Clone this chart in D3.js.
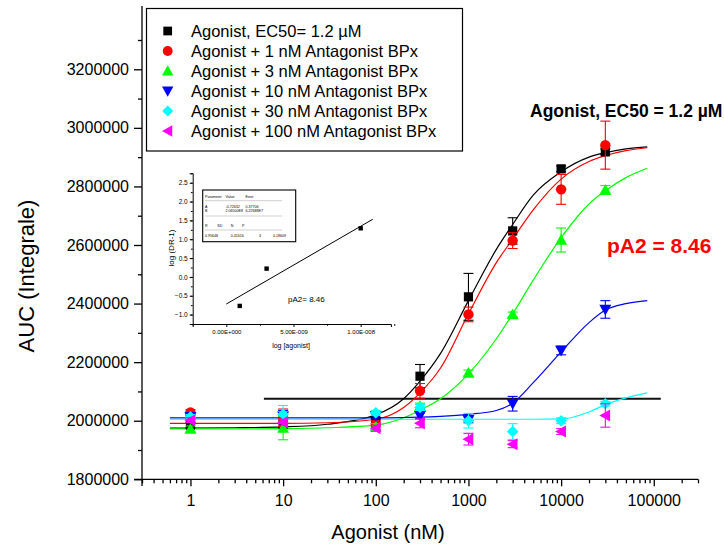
<!DOCTYPE html>
<html>
<head>
<meta charset="utf-8">
<script src="https://cdn.jsdelivr.net/npm/d3@7"></script>
<style>
  body { margin: 0; background: #fff; }
  svg { display: block; font-family: "Liberation Sans", Arial, Helvetica, sans-serif; }
</style>
</head>
<body>
<div id="chart"></div>
<script>
// ---- data ----
var conc = [1, 10, 100, 300, 1000, 3000, 10000, 30000];

var agonist      = [1985000, 1990000, 2000000, 2152000, 2423000, 2648000, 2860000, 2918000];
var agonistErr   = [10000, 15000, 10000, 40000, 80000, 45000, 10000, 10000];
var bpx1         = [2028000, 2010000, 1985000, 2102000, 2363000, 2615000, 2790000, 2941000];
var bpx1Err      = [10000, 30000, 15000, 25000, 25000, 27000, 51000, 82000];
var bpx3         = [1972000, 1975000, 1980000, 2050000, 2163000, 2363000, 2617000, 2788000];
var bpx3Err      = [10000, 40000, 10000, 10000, 10000, 8000, 41000, 15000];
var bpx10        = [2013000, 2015000, 2016000, 2017000, 2003000, 2058000, 2240000, 2380000];
var bpx10Err     = [8000, 20000, 10000, 10000, 10000, 25000, 15000, 30000];
var bpx30        = [2013000, 2022000, 2027000, 2045000, 2000000, 1963000, 2000000, 2058000];
var bpx30Err     = [8000, 30000, 8000, 10000, 25000, 27000, 10000, 8000];
var bpx100       = [2002000, 1995000, 1974000, 1991000, 1937000, 1920000, 1963000, 2018000];
var bpx100Err    = [8000, 10000, 10000, 15000, 20000, 12000, 10000, 40000];

// fitted curves, read at these concentrations
var fitConc = [0.6, 1, 3, 10, 30, 100, 200, 300, 500, 1000, 2000, 3000, 5000, 10000, 20000, 30000, 50000, 85000];
var fitAgonist = [1975000, 1975000, 1976000, 1979000, 1988000, 2020000, 2075000, 2135000, 2230000, 2410000, 2585000, 2670000, 2770000, 2850000, 2900000, 2915000, 2928000, 2935000];
var fitBpx1    = [1991000, 1991000, 1991000, 1991000, 1993000, 2005000, 2045000, 2095000, 2180000, 2365000, 2540000, 2620000, 2720000, 2825000, 2885000, 2905000, 2922000, 2932000];
var fitBpx3    = [1972000, 1972000, 1972000, 1973000, 1976000, 1985000, 2010000, 2036000, 2075000, 2160000, 2280000, 2365000, 2480000, 2625000, 2740000, 2785000, 2830000, 2862000];
var fitBpx10   = [2010000, 2010000, 2010000, 2010000, 2010000, 2010000, 2011000, 2012000, 2015000, 2022000, 2035000, 2060000, 2130000, 2235000, 2335000, 2378000, 2400000, 2410000];
var fitBpx30   = [2005000, 2005000, 2005000, 2005000, 2005000, 2005000, 2005000, 2005000, 2005000, 2005000, 2005000, 2005000, 2005000, 2006000, 2030000, 2055000, 2078000, 2095000];

var refLineConc = [6.2, 119000];
var refLineVal  = [2075000, 2075000];

var xTicks = [1, 10, 100, 1000, 10000, 100000];
var yTicks = [1800000, 2000000, 2200000, 2400000, 2600000, 2800000, 3000000, 3200000];

var legendLabels = [
  "Agonist, EC50= 1.2 \u00B5M",
  "Agonist + 1 nM Antagonist BPx",
  "Agonist + 3 nM Antagonist BPx",
  "Agonist + 10 nM Antagonist BPx",
  "Agonist + 30 nM Antagonist BPx",
  "Agonist + 100 nM Antagonist BPx"
];

// inset (Schild plot)
var schildX = [1e-9, 3e-9, 1e-8];
var schildY = [-0.77, 0.22, 1.29];
var schildLineX = [0, 1.09e-8];
var schildLineY = [-0.72, 1.53];
var insetYTicks = [-1.0, -0.5, 0.0, 0.5, 1.0, 1.5, 2.0, 2.5];
var insetXTicks = [0, 5e-9, 1e-8];
var insetXLabels = ["0.00E+000", "5.00E-009", "1.00E-008"];

var W = 724, H = 547;
var svg = d3.select("#chart").append("svg").attr("width", W).attr("height", H);

var x = d3.scaleLog().domain([0.3, 300000]).range([142, 698]);
var y = d3.scaleLinear().domain([1800000, 3400000]).range([479.3, 10.7]);

// ---- axes ----
var minorY = d3.range(1900000, 3400000, 200000);
var minorX = [];
[0.1, 1, 10, 100, 1000, 10000, 100000].forEach(function(d) {
  for (var k = 2; k <= 9; k++) {
    var v = d * k;
    if (v >= 0.3 && v <= 300000) minorX.push(v);
  }
});

var gy = svg.append("g").attr("transform", "translate(142,0)")
  .call(d3.axisLeft(y).tickValues(yTicks).tickSize(8).tickPadding(5).tickFormat(d3.format("d")));
gy.selectAll("text").attr("font-size", 16).attr("fill", "#000").attr("font-family", null);
gy.select(".domain").attr("stroke-width", 1.3).attr("d", "M0,486V6");
gy.selectAll(".tick line").attr("stroke-width", 1.3);
svg.append("g").attr("transform", "translate(142,0)")
  .call(d3.axisLeft(y).tickValues(minorY).tickSize(4).tickFormat(""))
  .call(function(g) { g.select(".domain").remove(); g.selectAll("line").attr("stroke-width", 1.3); });

var gx = svg.append("g").attr("transform", "translate(0,479.3)")
  .call(d3.axisBottom(x).tickValues(xTicks).tickSize(7).tickPadding(8).tickFormat(function(d) { return d; }));
gx.selectAll("text").attr("font-size", 16).attr("fill", "#000").attr("font-family", null);
gx.select(".domain").attr("stroke-width", 1.3).attr("d", "M134,0H698");
gx.selectAll(".tick line").attr("stroke-width", 1.3);
svg.append("g").attr("transform", "translate(0,479.3)")
  .call(d3.axisBottom(x).tickValues(minorX).tickSize(4).tickFormat(""))
  .call(function(g) { g.select(".domain").remove(); g.selectAll("line").attr("stroke-width", 1.3); });

svg.append("text").attr("transform", "translate(34,276) rotate(-90)")
  .attr("text-anchor", "middle").attr("font-size", 22).text("AUC (Integrale)");
svg.append("text").attr("x", 388).attr("y", 539)
  .attr("text-anchor", "middle").attr("font-size", 20).text("Agonist (nM)");

// ---- fitted curves ----
var line = d3.line()
  .x(function(d) { return x(d[0]); })
  .y(function(d) { return y(d[1]); })
  .curve(d3.curveMonotoneX);

var curves = [
  {vals: fitAgonist, color: "#000000"},
  {vals: fitBpx1, color: "#ff0000"},
  {vals: fitBpx3, color: "#00ff00"},
  {vals: fitBpx10, color: "#0000ff"},
  {vals: fitBpx30, color: "#00ffff"}
];

svg.append("path")
  .attr("d", line(d3.zip(refLineConc, refLineVal)))
  .attr("fill", "none").attr("stroke", "#111").attr("stroke-width", 1.8);

curves.forEach(function(c) {
  svg.append("path")
    .attr("d", line(d3.zip(fitConc, c.vals)))
    .attr("fill", "none").attr("stroke", c.color).attr("stroke-width", 1.2);
});

// ---- markers ----
function marker(type, s) {
  switch (type) {
    case "square": return "M" + (-s) + "," + (-s) + "h" + 2 * s + "v" + 2 * s + "h" + (-2 * s) + "Z";
    case "circle": return "M" + (-s) + ",0a" + s + "," + s + " 0 1,0 " + 2 * s + ",0a" + s + "," + s + " 0 1,0 " + (-2 * s) + ",0Z";
    case "up": return "M0," + (-s) + "L" + s + "," + (0.8 * s) + "L" + (-s) + "," + (0.8 * s) + "Z";
    case "down": return "M0," + s + "L" + s + "," + (-0.8 * s) + "L" + (-s) + "," + (-0.8 * s) + "Z";
    case "diamond": return "M0," + (-s) + "L" + s + ",0L0," + s + "L" + (-s) + ",0Z";
    case "left": return "M" + (-s) + ",0L" + (0.8 * s) + "," + (-s) + "L" + (0.8 * s) + "," + s + "Z";
  }
}

var series = [
  {vals: agonist, err: agonistErr, color: "#000000", type: "square", size: 4.6},
  {vals: bpx1, err: bpx1Err, color: "#ff0000", type: "circle", size: 5.2},
  {vals: bpx3, err: bpx3Err, color: "#00ff00", type: "up", size: 6},
  {vals: bpx10, err: bpx10Err, color: "#0000ff", type: "down", size: 6},
  {vals: bpx30, err: bpx30Err, color: "#00ffff", type: "diamond", size: 5.8},
  {vals: bpx100, err: bpx100Err, color: "#ff00ff", type: "left", size: 6}
];

series.forEach(function(s) {
  var g = svg.append("g");
  var pts = conc.map(function(c, i) { return {c: c, v: s.vals[i], e: s.err[i]}; });
  var eb = g.selectAll(".eb").data(pts).enter().append("g").attr("stroke", s.color).attr("stroke-width", 1.1);
  eb.append("line")
    .attr("x1", function(d) { return x(d.c); }).attr("x2", function(d) { return x(d.c); })
    .attr("y1", function(d) { return y(d.v - d.e); }).attr("y2", function(d) { return y(d.v + d.e); });
  eb.append("line")
    .attr("x1", function(d) { return x(d.c) - 5; }).attr("x2", function(d) { return x(d.c) + 5; })
    .attr("y1", function(d) { return y(d.v + d.e); }).attr("y2", function(d) { return y(d.v + d.e); });
  eb.append("line")
    .attr("x1", function(d) { return x(d.c) - 5; }).attr("x2", function(d) { return x(d.c) + 5; })
    .attr("y1", function(d) { return y(d.v - d.e); }).attr("y2", function(d) { return y(d.v - d.e); });
  g.selectAll(".pt").data(pts).enter().append("path")
    .attr("transform", function(d) { return "translate(" + x(d.c) + "," + y(d.v) + ")"; })
    .attr("d", marker(s.type, s.size))
    .attr("fill", s.color);
});

// ---- annotations ----
svg.append("text").attr("x", 530).attr("y", 117).attr("font-size", 17.5).attr("font-weight", "bold")
  .text("Agonist, EC50 = 1.2 \u00B5M");
svg.append("text").attr("x", 607).attr("y", 253).attr("font-size", 21).attr("font-weight", "bold")
  .attr("fill", "#ff0000").text("pA2 = 8.46");

// ---- legend ----
var leg = svg.append("g");
leg.append("rect").attr("x", 146.5).attr("y", 8.5).attr("width", 316).attr("height", 142.5)
  .attr("fill", "#fff").attr("stroke", "#000").attr("stroke-width", 1.2);
legendLabels.forEach(function(t, i) {
  var cy = 31 + i * 20;
  var s = series[i];
  leg.append("path").attr("transform", "translate(167.7," + cy + ")")
    .attr("d", marker(s.type, s.size * 0.95)).attr("fill", s.color);
  leg.append("text").attr("x", 191).attr("y", cy).attr("dy", "0.36em")
    .attr("font-size", 16.5).text(t);
});

// ---- inset ----
var ix = d3.scaleLinear().domain([-2.5e-9, 1.225e-8]).range([192.7, 390.9]);
var iy = d3.scaleLinear().domain([-1.25, 2.75]).range([324, 173.3]);
var inset = svg.append("g");

var iyAxis = inset.append("g").attr("transform", "translate(192.7,0)")
  .call(d3.axisLeft(iy).tickValues(insetYTicks).tickSize(3).tickPadding(2).tickFormat(d3.format(".1f")));
iyAxis.selectAll("text").attr("font-size", 6.5).attr("fill", "#000").attr("font-family", null);
inset.append("g").attr("transform", "translate(192.7,0)")
  .call(d3.axisLeft(iy).tickValues(d3.range(-1.25, 2.76, 0.25)).tickSize(1.8).tickFormat(""))
  .call(function(g) { g.select(".domain").remove(); });

var ixAxis = inset.append("g").attr("transform", "translate(0,324)")
  .call(d3.axisBottom(ix).tickValues(insetXTicks).tickSize(3).tickPadding(3)
    .tickFormat(function(d, i) { return insetXLabels[i]; }));
ixAxis.selectAll("text").attr("font-size", 6).attr("fill", "#000").attr("font-family", null);
inset.append("g").attr("transform", "translate(0,324)")
  .call(d3.axisBottom(ix).tickValues([-2.5e-9, 2.5e-9, 7.5e-9, 1.25e-8]).tickSize(1.8).tickFormat(""))
  .call(function(g) { g.select(".domain").remove(); });

inset.append("text").attr("transform", "translate(174,248) rotate(-90)")
  .attr("text-anchor", "middle").attr("font-size", 8).text("log (DR-1)");
inset.append("text").attr("x", 291).attr("y", 348)
  .attr("text-anchor", "middle").attr("font-size", 7).text("log [agonist]");

inset.append("path")
  .attr("d", d3.line().x(function(d) { return ix(d[0]); }).y(function(d) { return iy(d[1]); })(d3.zip(schildLineX, schildLineY)))
  .attr("stroke", "#000").attr("stroke-width", 1).attr("fill", "none");
inset.selectAll(".sp").data(d3.zip(schildX, schildY)).enter().append("rect")
  .attr("x", function(d) { return ix(d[0]) - 2.2; }).attr("y", function(d) { return iy(d[1]) - 2.2; })
  .attr("width", 4.4).attr("height", 4.4).attr("fill", "#000");

inset.append("text").attr("x", 288).attr("y", 302).attr("font-size", 8).text("pA2= 8.46");

// parameter table
var tb = inset.append("g").attr("font-size", 3.6);
tb.append("rect").attr("x", 202.7).attr("y", 190).attr("width", 93).attr("height", 51.7)
  .attr("fill", "none").attr("stroke", "#000").attr("stroke-width", 1.1);
var tableRows = [
  {y: 198, cells: [[205, "Parameter"], [225.5, "Value"], [245.5, "Error"]]},
  {y: 207.5, cells: [[205, "A"], [225.5, "-0.72632"], [245.5, "0.37706"]]},
  {y: 211.5, cells: [[205, "B"], [225.5, "2.06500E8"], [245.5, "6.22688E7"]]},
  {y: 226.5, cells: [[205, "R"], [217.3, "SD"], [230.7, "N"], [242, "P"]]},
  {y: 236.8, cells: [[205, "0.95648"], [230.7, "0.41616"], [259, "3"], [273, "0.18609"]]}
];
tableRows.forEach(function(r) {
  r.cells.forEach(function(c) {
    tb.append("text").attr("x", c[0]).attr("y", r.y).text(c[1]);
  });
});
[200.7, 216, 230].forEach(function(ly) {
  tb.append("line").attr("x1", 205).attr("x2", 282).attr("y1", ly).attr("y2", ly)
    .attr("stroke", "#888").attr("stroke-width", 0.4);
});
</script>
</body>
</html>
